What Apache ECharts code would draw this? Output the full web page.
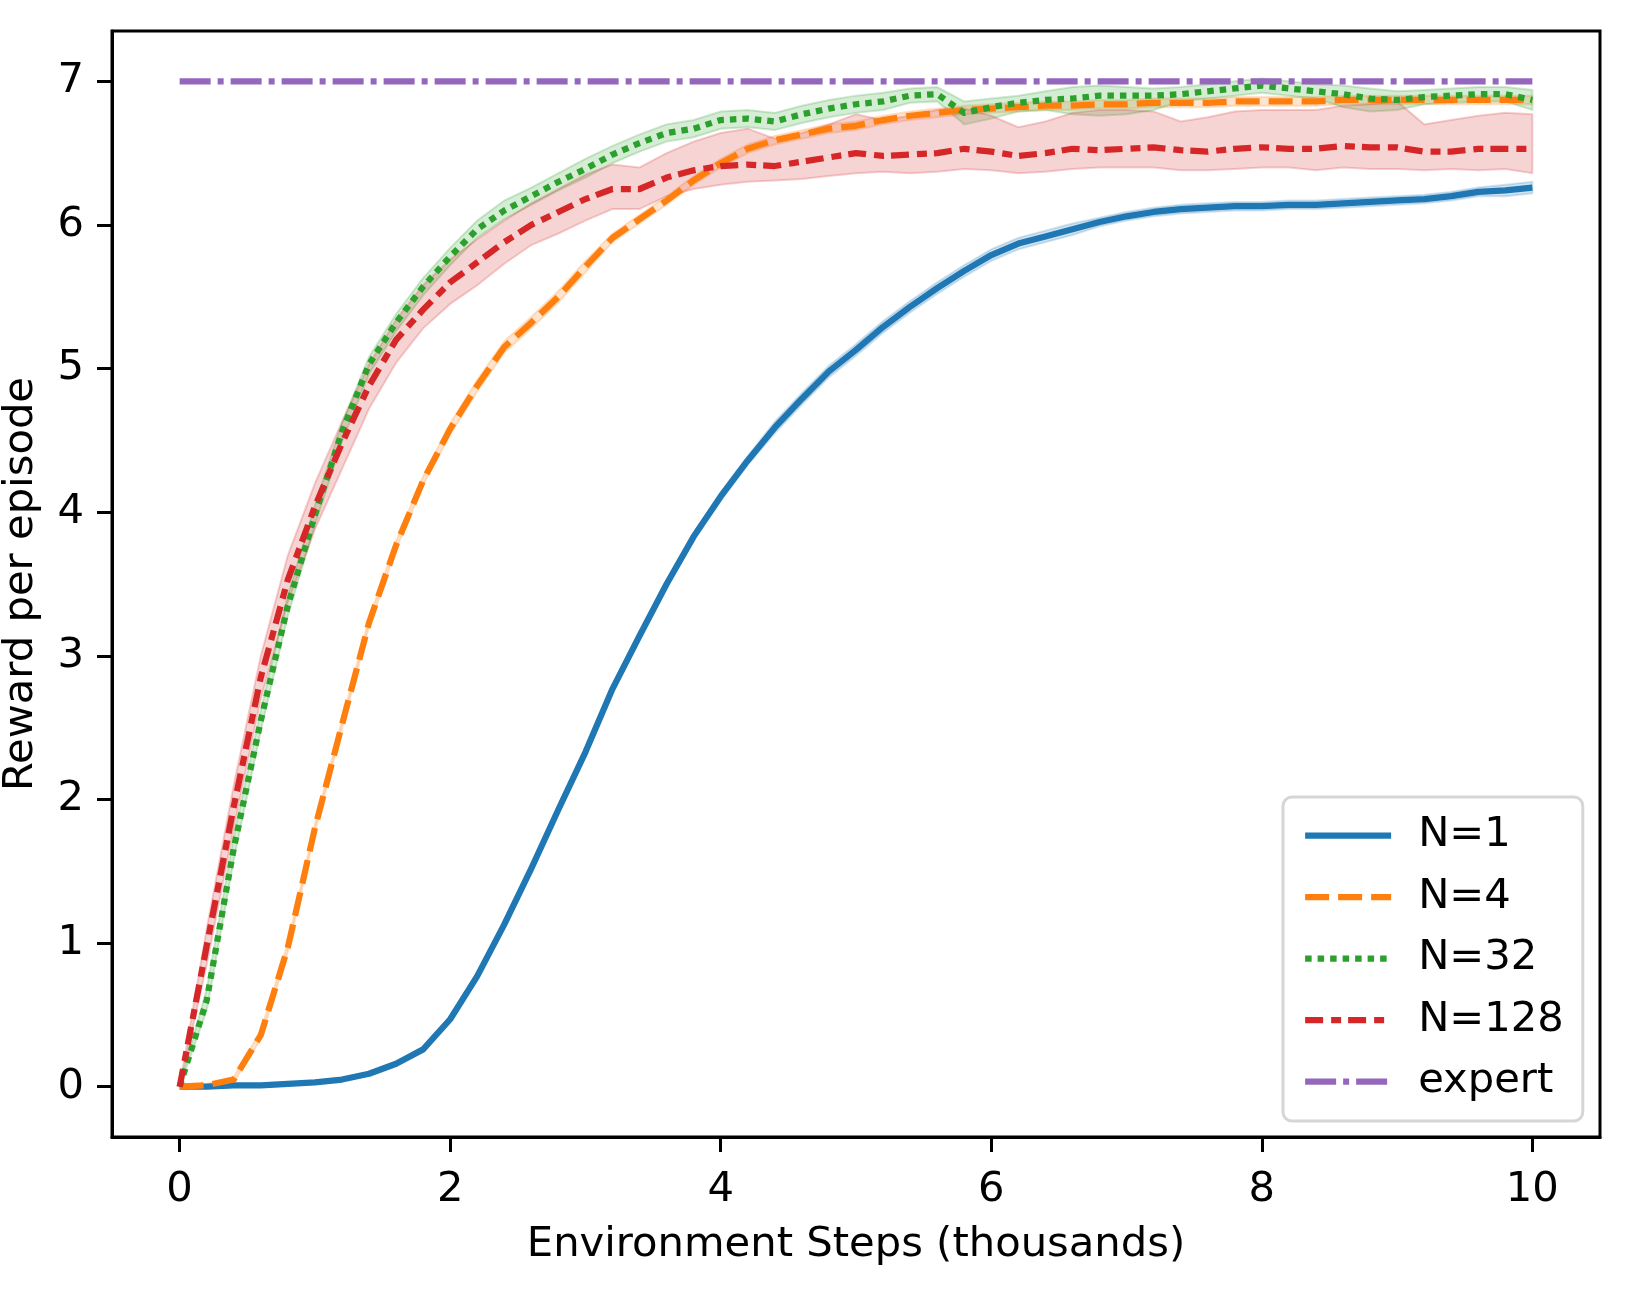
<!DOCTYPE html>
<html>
<head>
<meta charset="utf-8">
<script src="https://cdn.jsdelivr.net/npm/echarts@6/dist/echarts.min.js"></script>
<style>
  html, body { margin: 0; padding: 0; background: #fff; }
  #chart { width: 1631px; height: 1295px; }
</style>
</head>
<body>
<div id="chart"></div>
<script>
// environment steps (thousands)
const steps = [0, 0.2, 0.4, 0.6, 0.8, 1, 1.2, 1.4, 1.6, 1.8, 2, 2.2, 2.4, 2.6, 2.8, 3, 3.2, 3.4, 3.6, 3.8,
  4, 4.2, 4.4, 4.6, 4.8, 5, 5.2, 5.4, 5.6, 5.8, 6, 6.2, 6.4, 6.6, 6.8, 7, 7.2, 7.4, 7.6, 7.8,
  8, 8.2, 8.4, 8.6, 8.8, 9, 9.2, 9.4, 9.6, 9.8, 10];

// N=1
const n1Mean = [0, 0, 0.01, 0.01, 0.02, 0.03, 0.05, 0.09, 0.16, 0.26, 0.47, 0.77, 1.13, 1.52, 1.93, 2.33, 2.77, 3.14, 3.5, 3.83,
  4.11, 4.36, 4.59, 4.79, 4.98, 5.13, 5.29, 5.43, 5.56, 5.68, 5.79, 5.87, 5.92, 5.97, 6.02, 6.06, 6.09, 6.11, 6.12, 6.13,
  6.13, 6.14, 6.14, 6.15, 6.16, 6.17, 6.18, 6.2, 6.23, 6.24, 6.26];
const n1Spread = [0, 0.01, 0.01, 0.01, 0.01, 0.01, 0.01, 0.01, 0.01, 0.01, 0.02, 0.02, 0.02, 0.02, 0.02, 0.02, 0.02, 0.02, 0.02, 0.02,
  0.03, 0.03, 0.04, 0.04, 0.04, 0.04, 0.04, 0.04, 0.04, 0.04, 0.04, 0.04, 0.04, 0.04, 0.03, 0.03, 0.03, 0.03, 0.03, 0.03,
  0.03, 0.03, 0.03, 0.03, 0.03, 0.03, 0.03, 0.03, 0.03, 0.04, 0.04];

// N=4
const n4Mean = [0, 0.01, 0.05, 0.36, 0.97, 1.8, 2.52, 3.23, 3.77, 4.22, 4.58, 4.88, 5.15, 5.32, 5.5, 5.71, 5.91, 6.04, 6.17, 6.31,
  6.43, 6.53, 6.59, 6.63, 6.67, 6.69, 6.73, 6.76, 6.78, 6.8, 6.81, 6.82, 6.83, 6.83, 6.84, 6.84, 6.85, 6.85, 6.85, 6.86,
  6.86, 6.86, 6.86, 6.87, 6.87, 6.87, 6.87, 6.87, 6.87, 6.87, 6.87];
const n4Spread = [0, 0.01, 0.02, 0.03, 0.03, 0.03, 0.03, 0.03, 0.03, 0.03, 0.04, 0.04, 0.04, 0.04, 0.04, 0.04, 0.03, 0.03, 0.03, 0.03,
  0.03, 0.03, 0.03, 0.03, 0.03, 0.03, 0.03, 0.03, 0.03, 0.03, 0.03, 0.03, 0.03, 0.03, 0.03, 0.03, 0.03, 0.03, 0.03, 0.03,
  0.03, 0.03, 0.03, 0.03, 0.03, 0.03, 0.03, 0.03, 0.03, 0.03, 0.03];

// N=32
const n32Mean = [0, 0.6, 1.66, 2.55, 3.35, 3.98, 4.56, 5.03, 5.32, 5.57, 5.78, 5.97, 6.1, 6.2, 6.3, 6.39, 6.49, 6.57, 6.64, 6.67,
  6.73, 6.74, 6.72, 6.77, 6.81, 6.84, 6.86, 6.9, 6.91, 6.78, 6.82, 6.85, 6.87, 6.88, 6.9, 6.9, 6.9, 6.91, 6.93, 6.95,
  6.97, 6.95, 6.93, 6.91, 6.88, 6.87, 6.89, 6.9, 6.91, 6.91, 6.87];
const n32Upper = [0, 0.68, 1.74, 2.62, 3.42, 4.05, 4.62, 5.08, 5.38, 5.63, 5.84, 6.03, 6.17, 6.26, 6.36, 6.46, 6.55, 6.63, 6.7, 6.73,
  6.79, 6.8, 6.78, 6.83, 6.87, 6.9, 6.92, 6.95, 6.96, 6.86, 6.88, 6.9, 6.93, 6.96, 6.97, 6.96, 6.95, 6.96, 6.98, 7.0,
  7.02, 7.0, 6.98, 6.97, 6.95, 6.93, 6.94, 6.95, 6.96, 6.96, 6.94];
const n32Lower = [0, 0.53, 1.58, 2.48, 3.28, 3.91, 4.49, 4.96, 5.26, 5.51, 5.72, 5.91, 6.04, 6.14, 6.24, 6.33, 6.43, 6.51, 6.58, 6.61,
  6.67, 6.68, 6.66, 6.71, 6.75, 6.78, 6.8, 6.85, 6.86, 6.7, 6.74, 6.79, 6.8, 6.77, 6.76, 6.77, 6.8, 6.86, 6.88, 6.9,
  6.92, 6.9, 6.88, 6.82, 6.79, 6.8, 6.84, 6.85, 6.86, 6.86, 6.8];

// N=128
const n128Mean = [0, 0.98, 1.95, 2.85, 3.53, 4.04, 4.48, 4.88, 5.2, 5.41, 5.6, 5.74, 5.88, 6.0, 6.09, 6.18, 6.25, 6.25, 6.33, 6.38,
  6.41, 6.42, 6.41, 6.44, 6.47, 6.5, 6.48, 6.49, 6.5, 6.53, 6.51, 6.48, 6.5, 6.53, 6.52, 6.53, 6.54, 6.52, 6.51, 6.53,
  6.54, 6.53, 6.53, 6.55, 6.54, 6.54, 6.51, 6.51, 6.53, 6.53, 6.53];
const n128Upper = [0, 1.1, 2.1, 3.0, 3.7, 4.2, 4.63, 5.03, 5.34, 5.58, 5.76, 5.9, 6.03, 6.15, 6.25, 6.35, 6.42, 6.4, 6.5, 6.58,
  6.64, 6.67, 6.6, 6.64, 6.7, 6.77, 6.73, 6.76, 6.8, 6.81, 6.76, 6.68, 6.72, 6.78, 6.8, 6.8, 6.79, 6.72, 6.75, 6.79,
  6.8, 6.8, 6.8, 6.83, 6.84, 6.86, 6.7, 6.73, 6.76, 6.78, 6.77];
const n128Lower = [0, 0.85, 1.8, 2.7, 3.37, 3.88, 4.3, 4.72, 5.04, 5.28, 5.45, 5.58, 5.73, 5.86, 5.94, 6.03, 6.11, 6.11, 6.2, 6.25,
  6.28, 6.3, 6.31, 6.32, 6.34, 6.36, 6.37, 6.36, 6.37, 6.39, 6.38, 6.36, 6.37, 6.39, 6.4, 6.4, 6.4, 6.38, 6.38, 6.39,
  6.4, 6.4, 6.38, 6.4, 6.39, 6.39, 6.38, 6.39, 6.38, 6.39, 6.36];

// expert
const expertSteps = [0, 10];
const expertReward = [7, 7];

const xTicks = [0, 2, 4, 6, 8, 10];
const yTicks = [0, 1, 2, 3, 4, 5, 6, 7];

const font = "'DejaVu Sans', sans-serif";
const fs = 41.7;
const lw = 6.25;

function pairs(xs, ys) {
  return xs.map((x, i) => [x, ys[i]]);
}

// 區間陰影
function band(name, lower, upper, fill, stroke) {
  return {
    name: name,
    type: 'custom',
    coordinateSystem: 'cartesian2d',
    silent: true,
    z: 1,
    data: [[steps[0], lower[0]]],
    renderItem: function (params, api) {
      const top = steps.map((x, i) => api.coord([x, upper[i]]));
      const bottom = steps.map((x, i) => api.coord([x, lower[i]])).reverse();
      return {
        type: 'polygon',
        shape: { points: top.concat(bottom) },
        style: { fill: fill, stroke: stroke, lineWidth: 2 }
      };
    }
  };
}

function line(name, data, color, dash) {
  return {
    name: name,
    type: 'line',
    data: data,
    symbol: 'none',
    z: 3,
    itemStyle: { color: color },
    lineStyle: { color: color, width: lw, type: dash, cap: 'butt', join: 'round' }
  };
}

const chart = echarts.init(document.getElementById('chart'));

chart.setOption({
  animation: false,
  backgroundColor: '#fff',
  grid: {
    left: 112, right: 31, top: 31, bottom: 158,
    outerBoundsMode: 'none',
    show: true, borderColor: '#000', borderWidth: 3, backgroundColor: 'transparent'
  },
  legend: {
    orient: 'vertical',
    left: 1283,
    top: 797,
    data: ['N=1', 'N=4', 'N=32', 'N=128', 'expert'],
    itemWidth: 86,
    itemHeight: 14,
    itemGap: 14.5,
    padding: [15, 19, 16, 19],
    backgroundColor: '#fff',
    borderColor: '#d6d6d6',
    borderWidth: 3,
    borderRadius: 9,
    selectedMode: false,
    itemStyle: { opacity: 0 },
    lineStyle: { width: lw },
    textStyle: { fontSize: fs, color: '#000', fontFamily: font, lineHeight: 47, padding: [0, 0, 0, 22] }
  },
  xAxis: {
    type: 'value',
    min: -0.5,
    max: 10.5,
    name: 'Environment Steps (thousands)',
    nameLocation: 'middle',
    nameGap: 87,
    nameTextStyle: { fontSize: fs, color: '#000', fontFamily: font },
    axisLine: { show: true, onZero: false, lineStyle: { color: '#000', width: 3 } },
    axisTick: { show: true, customValues: xTicks, length: 15, lineStyle: { color: '#000', width: 3 } },
    axisLabel: { customValues: xTicks, fontSize: fs, color: '#000', fontFamily: font, margin: 32 },
    splitLine: { show: false }
  },
  yAxis: {
    type: 'value',
    min: -0.35,
    max: 7.35,
    name: 'Reward per episode',
    nameLocation: 'middle',
    nameGap: 70,
    nameTextStyle: { fontSize: fs, color: '#000', fontFamily: font },
    axisLine: { show: true, onZero: false, lineStyle: { color: '#000', width: 3 } },
    axisTick: { show: true, customValues: yTicks, length: 15, lineStyle: { color: '#000', width: 3 } },
    axisLabel: { customValues: yTicks, fontSize: fs, color: '#000', fontFamily: font, margin: 28 },
    splitLine: { show: false }
  },
  series: [
    band('band1', n1Mean.map((v, i) => v - n1Spread[i]), n1Mean.map((v, i) => v + n1Spread[i]),
      'rgba(31,119,180,0.2)', 'rgba(31,119,180,0.2)'),
    line('N=1', pairs(steps, n1Mean), '#1f77b4', 'solid'),
    band('band4', n4Mean.map((v, i) => v - n4Spread[i]), n4Mean.map((v, i) => v + n4Spread[i]),
      'rgba(255,127,14,0.2)', 'rgba(255,127,14,0.2)'),
    line('N=4', pairs(steps, n4Mean), '#ff7f0e', [24, 9]),
    band('band32', n32Lower, n32Upper, 'rgba(44,160,44,0.2)', 'rgba(44,160,44,0.22)'),
    line('N=32', pairs(steps, n32Mean), '#2ca02c', [6.5, 6]),
    band('band128', n128Lower, n128Upper, 'rgba(214,39,40,0.2)', 'rgba(214,39,40,0.22)'),
    line('N=128', pairs(steps, n128Mean), '#d62728', [18, 8, 10, 7]),
    line('expert', pairs(expertSteps, expertReward), '#9467bd', [31, 7, 6, 7])
  ]
});
</script>
</body>
</html>
